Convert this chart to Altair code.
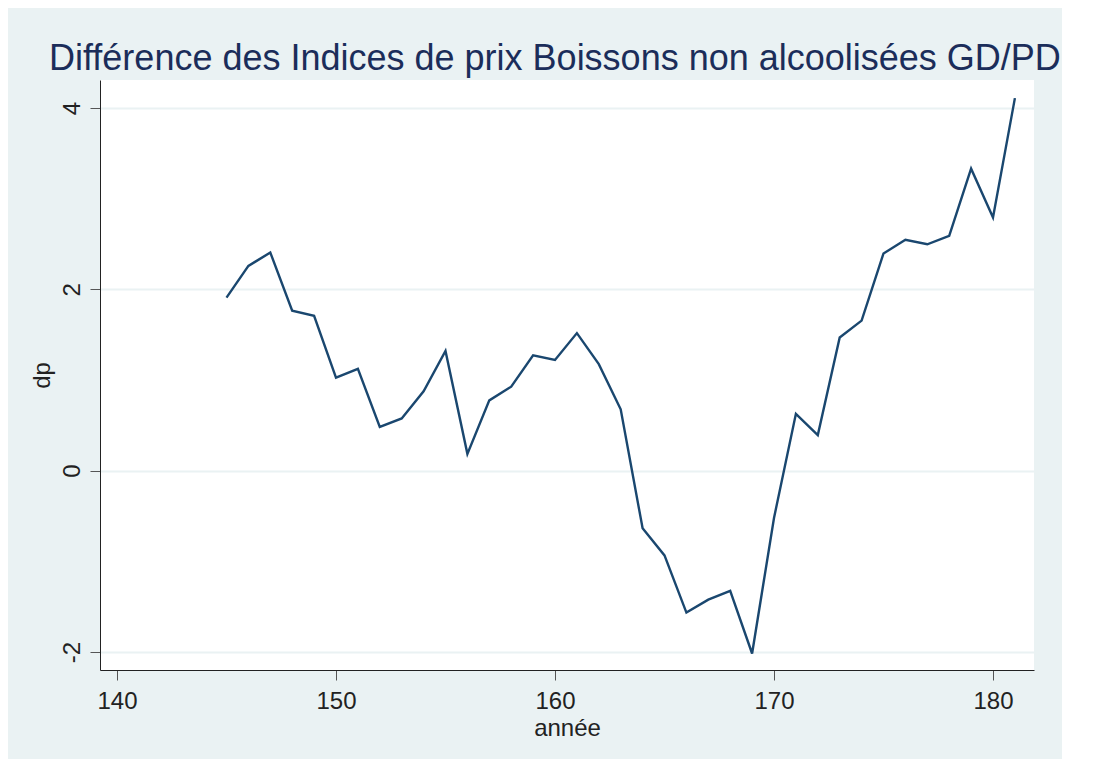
import altair as alt
import pandas as pd

years = list(range(145, 182))
dp = [1.908, 2.258, 2.406, 1.764, 1.708, 1.026, 1.122, 0.483, 0.576, 0.875,
      1.321, 0.185, 0.775, 0.926, 1.273, 1.221, 1.517, 1.175, 0.677, -0.636,
      -0.935, -1.566, -1.423, -1.326, -2.017, -0.522, 0.627, 0.392, 1.469, 1.655,
      2.396, 2.547, 2.497, 2.589, 3.331, 2.792, 4.109]

x_ticks = [140, 150, 160, 170, 180]
y_ticks = [-2, 0, 2, 4]

df = pd.DataFrame({"année": years, "dp": dp})

FONT = "Liberation Sans"
BG = "#EAF2F3"

chart = alt.Chart(df).mark_line(color="#1A476F", strokeWidth=2.4).encode(
    x=alt.X("année:Q",
            scale=alt.Scale(domain=[139.224, 181.872], nice=False, zero=False),
            axis=alt.Axis(values=x_ticks, grid=False, title="année",
                          labelFontSize=24, titleFontSize=24,
                          tickSize=10, labelPadding=9, titlePadding=3,
                          titleFontWeight="normal")),
    y=alt.Y("dp:Q",
            scale=alt.Scale(domain=[-2.199, 4.309], nice=False, zero=False),
            axis=alt.Axis(values=y_ticks, grid=True, title="dp",
                          labelExpr="datum.value < 0 ? '-' + abs(datum.value) : '' + datum.value",
                          labelFontSize=24, titleFontSize=24,
                          labelAngle=-90, labelAlign="center", labelBaseline="alphabetic",
                          tickSize=10, labelPadding=11, titlePadding=6,
                          titleFontWeight="normal")),
).properties(
    width=934,
    height=590,
    title=alt.TitleParams(
        "Différence des Indices de prix Boissons non alcoolisées GD/PD",
        anchor="start", frame="group", dx=-51, dy=39, offset=13,
        baseline="alphabetic", fontSize=36, font=FONT,
        color="#1B2D5A", fontWeight="normal"),
    autosize=alt.AutoSizeParams(type="none"),
    padding={"left": 92, "top": 72, "right": 28, "bottom": 89},
).configure(
    background=BG,
    font=FONT,
).configure_view(
    fill="white", stroke=None,
).configure_axis(
    labelFont=FONT, titleFont=FONT,
    labelColor="#222222", titleColor="#222222",
    domainColor="#222222", tickColor="#555555",
    gridColor=BG, gridWidth=2, domainWidth=1, tickWidth=1,
)

chart.save("out.html", embed_options={"renderer": "svg", "actions": False})
